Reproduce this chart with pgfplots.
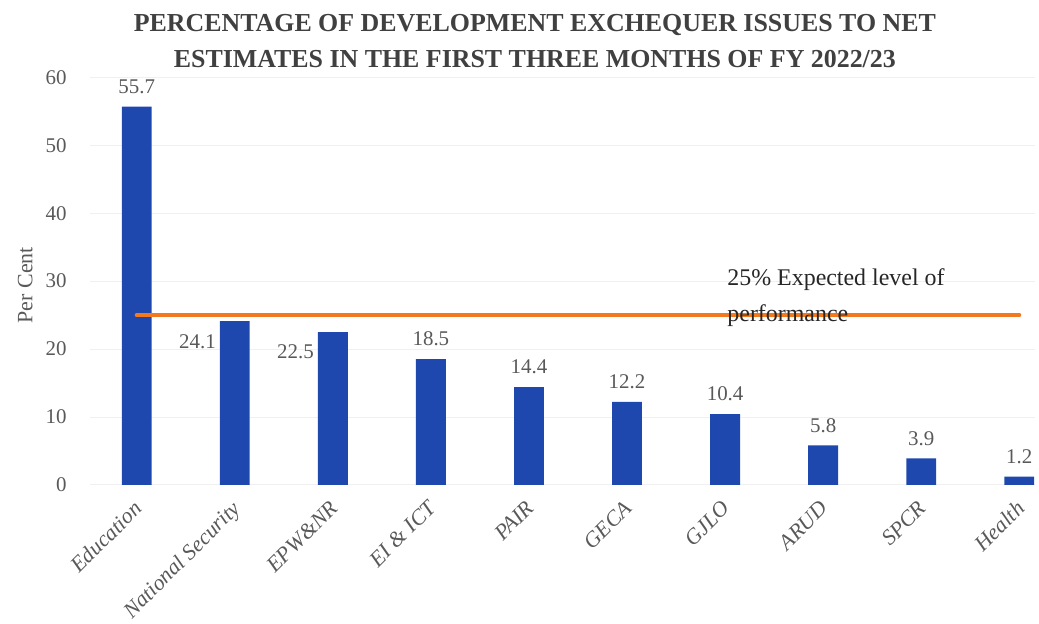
\documentclass[border=0pt]{standalone}
\usepackage{fontspec}
\setmainfont{Liberation Serif}
\usepackage{pgfplots}
\pgfplotsset{compat=1.18}
\usepackage{pgfplotstable}

\definecolor{barblue}{RGB}{31,72,175}
\definecolor{lineorange}{RGB}{243,120,30}
\definecolor{ticktext}{RGB}{89,89,89}
\definecolor{titletext}{RGB}{64,64,64}

\pgfplotstableread{
x   val
0   55.7
1   24.1
2   22.5
3   18.5
4   14.4
5   12.2
6   10.4
7   5.8
8   3.9
9   1.2
}\ministries

\begin{document}
\begin{tikzpicture}
\begin{axis}[
    scale only axis,
    width=474.5pt, height=204.5pt,
    xmin=-0.48, xmax=9.16,
    ymin=0, ymax=60,
    ytick={0,10,...,60},
    xtick={0,...,9},
    xticklabels={Education, National Security, EPW\&NR, EI \& ICT, PAIR, GECA, GJLO, ARUD, SPCR, Health},
    xticklabel style={rotate=45, anchor=north east, inner sep=0.5pt, font=\itshape\fontsize{11}{13}\selectfont, text=ticktext, yshift=-3pt, xshift=-6pt},
    yticklabel style={font=\fontsize{10.5}{12}\selectfont, text=ticktext, xshift=-8pt},
    /pgf/number format/assume math mode=true,
    axis line style={draw=none},
    major tick length=0pt,
    ymajorgrids,
    grid style={gray!12, line width=0.4pt},
    ylabel={Per Cent},
    ylabel style={font=\fontsize{11}{12}\selectfont, text=ticktext, at={(rel axis cs:-0.068,0.49)}, anchor=center},
    clip=false,
]
\addplot[ybar, bar width=15pt, fill=barblue, draw=none] table[x=x, y=val] {\ministries};

% labels above the bars
\addplot[draw=none, mark=none, skip coords between index={1}{3},
    nodes near coords, point meta=explicit symbolic,
    every node near coord/.style={font=\fontsize{10.5}{12}\selectfont, text=ticktext, anchor=south, yshift=3pt}]
    table[x=x, y=val, meta=val] {\ministries};
% labels set to the left of the bars
\addplot[draw=none, mark=none, restrict x to domain=1:2,
    nodes near coords, point meta=explicit symbolic,
    every node near coord/.style={font=\fontsize{10.5}{12}\selectfont, text=ticktext, anchor=north east, xshift=-6pt, yshift=-3pt}]
    table[x=x, y=val, meta=val] {\ministries};

\addplot[lineorange, line width=2pt, line cap=round] coordinates {(0,25) (9,25)};

\node[anchor=south west, align=left, font=\fontsize{12}{18}\selectfont, text=black!85, inner sep=0pt]
    at (axis cs:6.02,23.3) {25\% Expected level of\\performance};

\node[font=\bfseries\fontsize{13}{18}\selectfont, text=titletext, align=center]
    at (rel axis cs:0.471,1.09) {PERCENTAGE OF DEVELOPMENT EXCHEQUER ISSUES TO NET\\ESTIMATES IN THE FIRST THREE MONTHS OF FY 2022/23};

\coordinate (bl) at (rel axis cs:-0.0948,-0.335);
\coordinate (tr) at (rel axis cs:1,1.19);
\end{axis}
\path (bl) rectangle (tr);
\end{tikzpicture}
\end{document}
